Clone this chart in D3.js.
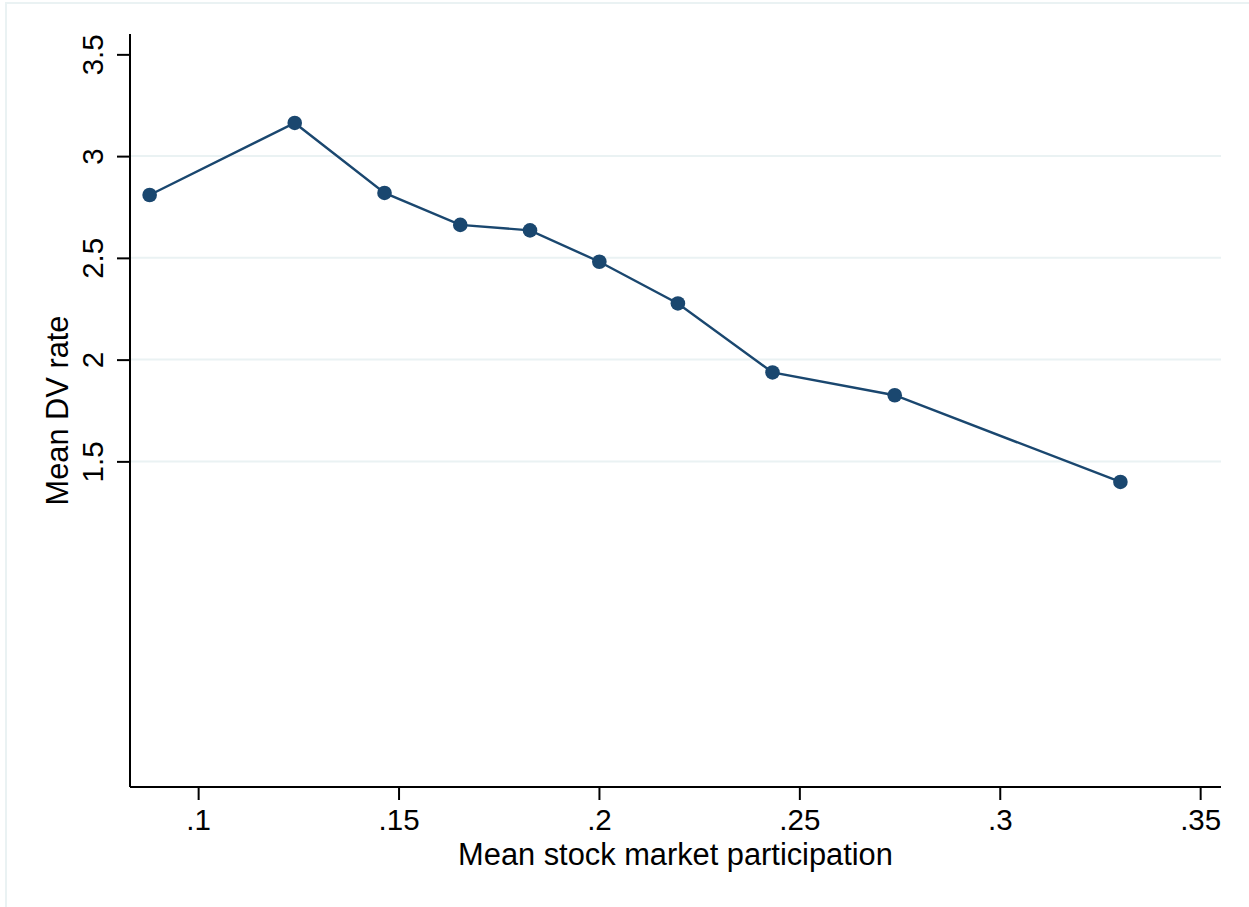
<!DOCTYPE html>
<html>
<head>
<meta charset="utf-8">
<script src="https://cdn.jsdelivr.net/npm/d3@7"></script>
<style>
  html, body { margin: 0; padding: 0; background: #fff; }
  svg { display: block; }
  text { font-family: "Liberation Sans", Arial, sans-serif; fill: #000; }
</style>
</head>
<body>
<svg id="chart" width="1249" height="907"></svg>
<script>
// Mean stock market participation (x) vs. mean DV rate (y)
const participation = [0.0879, 0.1241, 0.1465, 0.1654, 0.1828, 0.2001, 0.2197, 0.2433, 0.2738, 0.3301];
const dvRate       = [2.809, 3.163, 2.819, 2.662, 2.635, 2.481, 2.276, 1.937, 1.825, 1.399];

const xTickValues = [0.10, 0.15, 0.20, 0.25, 0.30, 0.35];
const xTickLabels = [".1", ".15", ".2", ".25", ".3", ".35"];
const yTickValues = [1.5, 2, 2.5, 3, 3.5];
const yTickLabels = ["1.5", "2", "2.5", "3", "3.5"];

const xTitle = "Mean stock market participation";
const yTitle = "Mean DV rate";

const svg = d3.select("#chart");
const W = 1249, H = 907;

const plot = { left: 130, right: 1221, top: 34, bottom: 787 };

const x = d3.scaleLinear().domain([0.0830, 0.3552]).range([plot.left, plot.right]);
const y = d3.scaleLinear().domain([-0.1, 3.6]).range([plot.bottom, plot.top]);

const navy = "#1a476f";
const gridColor = "#eaf2f3";
const tickFont = 29.5;
const titleFont = 30.8;

// outer graph-region border
svg.append("rect")
  .attr("x", 6).attr("y", 3)
  .attr("width", W + 20).attr("height", H + 20)
  .attr("fill", "#fff")
  .attr("stroke", gridColor)
  .attr("stroke-width", 2);

// horizontal gridlines (not at the top tick)
svg.append("g")
  .selectAll("line")
  .data(yTickValues.filter(v => v < 3.5))
  .join("line")
  .attr("x1", plot.left).attr("x2", plot.right)
  .attr("y1", d => y(d)).attr("y2", d => y(d))
  .attr("stroke", gridColor)
  .attr("stroke-width", 2);

// x axis
const xAxis = d3.axisBottom(x)
  .tickValues(xTickValues)
  .tickFormat((d, i) => xTickLabels[i])
  .tickSize(13)
  .tickPadding(9)
  .tickSizeOuter(0);

const gx = svg.append("g")
  .attr("transform", `translate(0,${plot.bottom})`)
  .call(xAxis);
gx.select(".domain").attr("stroke", "#000").attr("stroke-width", 2)
  .attr("d", `M${plot.left},0H${plot.right}`);
gx.selectAll(".tick line").attr("stroke", "#000").attr("stroke-width", 2);
gx.selectAll(".tick text")
  .attr("font-size", tickFont)
  .attr("font-family", "Liberation Sans, Arial, sans-serif")
  .attr("fill", "#000");

// y axis
const yAxis = d3.axisLeft(y)
  .tickValues(yTickValues)
  .tickFormat((d, i) => yTickLabels[i])
  .tickSize(13)
  .tickPadding(14)
  .tickSizeOuter(0);

const gy = svg.append("g")
  .attr("transform", `translate(${plot.left},0)`)
  .call(yAxis);
gy.select(".domain").attr("stroke", "#000").attr("stroke-width", 2)
  .attr("d", `M0,${plot.top}V${plot.bottom}`);
gy.selectAll(".tick line").attr("stroke", "#000").attr("stroke-width", 2);
gy.selectAll(".tick text")
  .attr("font-size", tickFont)
  .attr("font-family", "Liberation Sans, Arial, sans-serif")
  .attr("fill", "#000")
  .attr("x", null).attr("dy", null)
  .attr("text-anchor", "middle")
  .attr("transform", "translate(-27,0) rotate(-90)");

// axis titles
svg.append("text")
  .attr("x", (plot.left + plot.right) / 2)
  .attr("y", 865)
  .attr("text-anchor", "middle")
  .attr("font-size", titleFont)
  .text(xTitle);

svg.append("text")
  .attr("transform", `translate(68,${(plot.top + plot.bottom) / 2}) rotate(-90)`)
  .attr("text-anchor", "middle")
  .attr("font-size", titleFont)
  .text(yTitle);

// connected line
const pts = participation.map((p, i) => [p, dvRate[i]]);
svg.append("path")
  .datum(pts)
  .attr("fill", "none")
  .attr("stroke", navy)
  .attr("stroke-width", 2.4)
  .attr("d", d3.line().x(d => x(d[0])).y(d => y(d[1])));

// markers
svg.append("g")
  .selectAll("circle")
  .data(pts)
  .join("circle")
  .attr("cx", d => x(d[0]))
  .attr("cy", d => y(d[1]))
  .attr("r", 7.3)
  .attr("fill", navy);
</script>
</body>
</html>
